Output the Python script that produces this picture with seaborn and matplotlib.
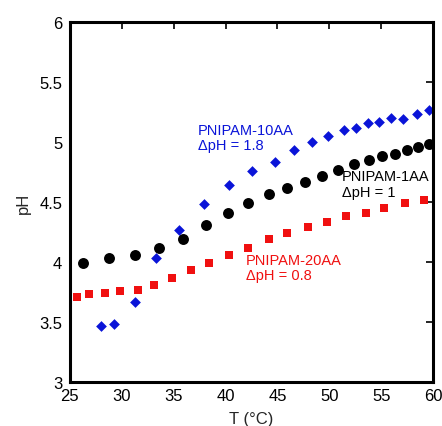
import matplotlib
matplotlib.use("Agg")
import matplotlib.pyplot as plt
import seaborn as sns
import pandas as pd

# PNIPAM-1AA (black circles)
t_1aa = [26.28, 28.79, 31.27, 33.58, 35.92, 38.08, 40.21, 42.19, 44.16, 45.94,
         47.64, 49.30, 50.87, 52.38, 53.80, 55.08, 56.37, 57.49, 58.58, 59.62]
ph_1aa = [3.99, 4.03, 4.06, 4.12, 4.19, 4.31, 4.41, 4.49, 4.57, 4.62,
          4.67, 4.72, 4.77, 4.82, 4.85, 4.88, 4.90, 4.93, 4.96, 4.98]

# PNIPAM-10AA (blue diamonds)
t_10aa = [28.02, 29.24, 31.30, 33.32, 35.51, 37.92, 40.33, 42.55, 44.77, 46.63,
          48.36, 49.91, 51.39, 52.58, 53.73, 54.82, 55.92, 57.14, 58.49, 59.62]
ph_10aa = [3.47, 3.48, 3.67, 4.03, 4.27, 4.48, 4.64, 4.76, 4.83, 4.93,
           5.00, 5.05, 5.10, 5.12, 5.16, 5.17, 5.20, 5.19, 5.23, 5.27]

# PNIPAM-20AA (red squares)
t_20aa = [25.65, 26.83, 28.35, 29.82, 31.56, 33.13, 34.84, 36.64, 38.37, 40.33,
          42.13, 44.16, 45.89, 47.91, 49.75, 51.58, 53.54, 55.28, 57.30, 59.07]
ph_20aa = [3.71, 3.73, 3.74, 3.76, 3.77, 3.81, 3.87, 3.93, 3.99, 4.06,
           4.12, 4.19, 4.24, 4.29, 4.33, 4.38, 4.41, 4.45, 4.49, 4.52]

series = ["PNIPAM-1AA", "PNIPAM-10AA", "PNIPAM-20AA"]
delta_labels = ["\u0394pH = 1", "\u0394pH = 1.8", "\u0394pH = 0.8"]
x_ticks = [25, 30, 35, 40, 45, 50, 55, 60]
y_ticks = [3, 3.5, 4, 4.5, 5, 5.5, 6]
y_tick_labels = ["3", "3.5", "4", "4.5", "5", "5.5", "6"]

sns.set_theme(style="white")
plt.rcParams["font.family"] = ["Liberation Sans", "DejaVu Sans"]

df = pd.DataFrame({
    "T": t_1aa + t_10aa + t_20aa,
    "pH": ph_1aa + ph_10aa + ph_20aa,
    "series": [series[0]] * len(t_1aa) + [series[1]] * len(t_10aa) + [series[2]] * len(t_20aa),
})

colors = {series[0]: "#000000", series[1]: "#0a14d8", series[2]: "#f01010"}
markers = {series[0]: "o", series[1]: "D", series[2]: "s"}
sizes = {series[0]: 62, series[1]: 30, series[2]: 34}

fig = plt.figure(figsize=(4.42, 4.27), dpi=100)
ax = fig.add_axes([0.158, 0.103, 0.822, 0.843])

for s in series:
    sub = df[df["series"] == s]
    sns.scatterplot(data=sub, x="T", y="pH", ax=ax, color=colors[s], marker=markers[s],
                    s=sizes[s], linewidth=0, legend=False)

ax.set_xlim(25, 60)
ax.set_ylim(3, 6)
ax.set_xticks(x_ticks)
ax.set_yticks(y_ticks)
ax.set_yticklabels(y_tick_labels)
ax.tick_params(direction="in", length=5, width=1.2, top=True, right=True,
               labelsize=12, colors="black")
ax.tick_params(axis="x", pad=4)
ax.tick_params(axis="y", pad=5.5)
for sp in ax.spines.values():
    sp.set_linewidth(2.2)
    sp.set_color("black")
ax.set_xlabel("T (\u00b0C)", fontsize=12, labelpad=6)
ax.set_ylabel("pH", fontsize=12, labelpad=6)

ax.text(37.3, 5.04, series[1] + "\n" + delta_labels[1], color=colors[series[1]],
        fontsize=10.5, va="center", ha="left", linespacing=1.1)
ax.text(51.2, 4.65, series[0] + "\n" + delta_labels[0], color=colors[series[0]],
        fontsize=10.5, va="center", ha="left", linespacing=1.1)
ax.text(41.97, 3.955, series[2] + "\n" + delta_labels[2], color=colors[series[2]],
        fontsize=10.5, va="center", ha="left", linespacing=1.1)

fig.savefig("out.png", dpi=100)
